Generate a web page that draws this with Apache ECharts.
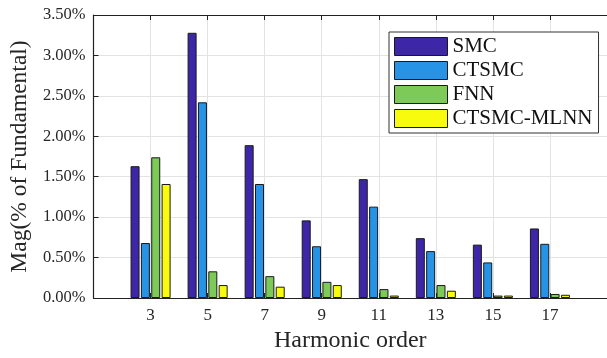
<!DOCTYPE html>
<html>
<head>
<meta charset="utf-8">
<script src="https://cdn.jsdelivr.net/npm/echarts@6/dist/echarts.min.js"></script>
<style>html,body{margin:0;padding:0;background:#fff}#c{width:607px;height:358px}</style>
</head>
<body>
<div id="c"></div>
<script>
const harmonics = [3, 5, 7, 9, 11, 13, 15, 17];
const smc     = [1.63, 3.28, 1.89, 0.96, 1.47, 0.74, 0.66, 0.86];
const ctsmc   = [0.68, 2.42, 1.41, 0.64, 1.13, 0.58, 0.44, 0.67];
const fnn     = [1.74, 0.33, 0.27, 0.20, 0.11, 0.16, 0.03, 0.05];
const mlnn    = [1.41, 0.16, 0.14, 0.16, 0.03, 0.09, 0.03, 0.04];
const seriesNames = ['SMC', 'CTSMC', 'FNN', 'CTSMC-MLNN'];
const colors = ['#3E26A8', '#2693E6', '#7DCA58', '#F9FB0E'];

const FONT = 'Liberation Serif';
const chart = echarts.init(document.getElementById('c'));
const allVals = [smc, ctsmc, fnn, mlnn];
const series = allVals.map((vals, i) => ({
  name: seriesNames[i],
  type: 'bar',
  xAxisIndex: 0,
  data: harmonics.map((h, j) => [h, vals[j]]),
  barWidth: 9,
  barGap: '15%',
  itemStyle: {
    color: colors[i],
    borderColor: '#1a1a1a',
    borderWidth: 1
  }
}));

chart.setOption({
  animation: false,
  textStyle: { fontFamily: FONT },
  grid: { left: 92, top: 15, bottom: 54, right: -7 },
  legend: {
    left: 389, top: 32,
    orient: 'vertical',
    itemWidth: 53, itemHeight: 18, itemGap: 3,
    padding: [4, 6, 4, 5],
    borderColor: '#333', borderWidth: 1,
    backgroundColor: '#fff',
    icon: 'rect',
    itemStyle: { borderColor: '#1a1a1a', borderWidth: 1 },
    textStyle: { fontFamily: FONT, fontSize: 21, color: '#111' },
    data: seriesNames
  },
  xAxis: [{
    type: 'value', min: 1, max: 19, interval: 2,
    name: 'Harmonic order', nameLocation: 'middle', nameGap: 31,
    nameTextStyle: { fontFamily: FONT, fontSize: 24, color: '#262626' },
    axisLine: { show: true, lineStyle: { color: '#222', width: 1.2 } },
    axisTick: { show: true, inside: true, length: 5, lineStyle: { color: '#222' } },
    axisLabel: { showMinLabel: false, showMaxLabel: false, fontFamily: FONT, fontSize: 17, color: '#262626', margin: 9 },
    splitLine: { show: true, lineStyle: { color: '#e3e3e3', width: 1 } }
  }, {
    type: 'value', position: 'top', min: 1, max: 19, interval: 2,
    axisLine: { show: true, lineStyle: { color: '#222', width: 1.2 } },
    axisTick: { show: true, inside: true, length: 5, lineStyle: { color: '#222' } },
    axisLabel: { show: false },
    splitLine: { show: false }
  }],
  yAxis: {
    type: 'value', min: 0, max: 3.5, interval: 0.5,
    name: 'Mag(% of Fundamental)', nameLocation: 'middle', nameGap: 57,
    nameTextStyle: { fontFamily: FONT, fontSize: 23.5, color: '#262626' },
    axisLine: { show: true, lineStyle: { color: '#222', width: 1.2 } },
    axisTick: { show: true, inside: true, length: 5, lineStyle: { color: '#222' } },
    axisLabel: { fontFamily: FONT, fontSize: 16.5, color: '#262626', margin: 8,
      formatter: v => v.toFixed(2) + '%' },
    splitLine: { show: true, lineStyle: { color: '#e3e3e3', width: 1 } }
  },
  series: series
});
</script>
</body>
</html>
